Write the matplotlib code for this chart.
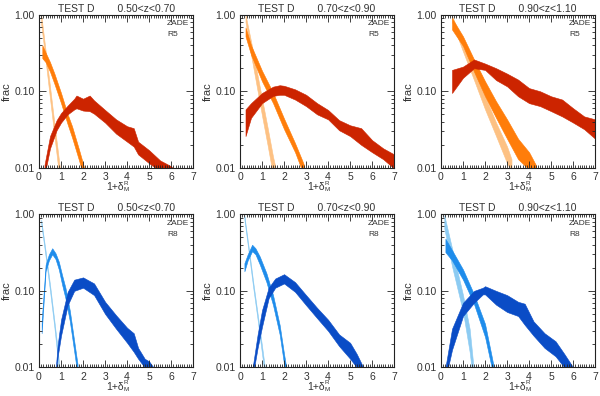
import matplotlib
matplotlib.use('Agg')
import matplotlib.pyplot as plt
from matplotlib.ticker import FixedLocator, MultipleLocator, NullFormatter

plt.rcParams['font.family'] = ['Liberation Sans', 'DejaVu Sans']

# --- data: bands (x, lower, upper) per panel ---
# top row, R5
x_l1 = [0.1, 0.3, 0.5, 0.7, 0.9, 1.0]
hi_l1 = [1.0, 0.34, 0.115, 0.038, 0.013, 0.0075]
lo_l1 = [0.75, 0.25, 0.08, 0.026, 0.0085, 0.005]
x_m1 = [0.15, 0.3, 0.5, 0.7, 1.0, 1.3, 1.5, 1.8, 2.1]
hi_m1 = [0.40, 0.32, 0.24, 0.17, 0.095, 0.05, 0.035, 0.018, 0.009]
lo_m1 = [0.27, 0.24, 0.18, 0.125, 0.07, 0.037, 0.025, 0.013, 0.0065]
x_d1 = [0.25, 0.5, 0.8, 1.0, 1.3, 1.6, 1.7, 2.0, 2.3, 2.5, 3.0, 3.5, 4.0, 4.3, 4.5, 5.0, 5.5, 6.0, 6.2]
hi_d1 = [0.011, 0.026, 0.042, 0.052, 0.065, 0.08, 0.088, 0.08, 0.088, 0.076, 0.057, 0.043, 0.035, 0.033,
         0.022, 0.017, 0.0125, 0.0105, 0.009]
lo_d1 = [0.008, 0.018, 0.031, 0.039, 0.05, 0.058, 0.06, 0.056, 0.055, 0.051, 0.039, 0.028, 0.022, 0.019,
         0.015, 0.0115, 0.009, 0.008, 0.007]

x_l2 = [0.25, 0.5, 0.75, 1.0, 1.25, 1.5, 1.6]
hi_l2 = [1.0, 0.45, 0.19, 0.08, 0.034, 0.014, 0.0105]
lo_l2 = [0.8, 0.3, 0.12, 0.048, 0.02, 0.008, 0.006]
x_m2 = [0.25, 0.5, 1.0, 1.5, 2.0, 2.5, 2.8, 2.9]
hi_m2 = [0.68, 0.4, 0.185, 0.096, 0.044, 0.021, 0.013, 0.011]
lo_m2 = [0.52, 0.3, 0.135, 0.07, 0.032, 0.016, 0.0095, 0.008]
x_d2 = [0.25, 0.5, 1.0, 1.5, 1.8, 2.0, 2.5, 3.0, 3.5, 4.0, 4.5, 5.0, 5.5, 6.0, 6.5, 7.0]
hi_d2 = [0.058, 0.07, 0.095, 0.115, 0.12, 0.118, 0.106, 0.09, 0.07, 0.057, 0.042, 0.036, 0.033, 0.023, 0.018, 0.015]
lo_d2 = [0.026, 0.045, 0.07, 0.087, 0.09, 0.09, 0.078, 0.064, 0.05, 0.043, 0.031, 0.026, 0.02, 0.016, 0.013, 0.0098]

x_l3 = [0.5, 1.0, 1.5, 2.0, 2.5, 3.0, 3.2]
hi_l3 = [0.97, 0.43, 0.19, 0.086, 0.039, 0.019, 0.013]
lo_l3 = [0.8, 0.33, 0.14, 0.058, 0.026, 0.0115, 0.009]
x_m3 = [0.5, 1.0, 1.5, 2.0, 2.5, 3.0, 3.5, 4.0, 4.3]
hi_m3 = [0.9, 0.52, 0.26, 0.135, 0.074, 0.043, 0.024, 0.016, 0.011]
lo_m3 = [0.64, 0.39, 0.18, 0.086, 0.045, 0.024, 0.013, 0.0095, 0.007]
x_d3 = [0.5, 1.0, 1.5, 2.0, 2.5, 3.0, 3.5, 4.0, 4.5, 5.0, 5.5, 6.0, 6.5, 7.0]
hi_d3 = [0.19, 0.21, 0.26, 0.23, 0.2, 0.17, 0.142, 0.11, 0.1, 0.086, 0.078, 0.06, 0.047, 0.043]
lo_d3 = [0.095, 0.15, 0.2, 0.19, 0.14, 0.116, 0.086, 0.07, 0.064, 0.055, 0.047, 0.039, 0.032, 0.024]

# bottom row, R8
x_l4 = [0.1, 0.3, 0.5, 0.7, 0.85, 0.9]
hi_l4 = [0.85, 0.33, 0.12, 0.04, 0.017, 0.012]
lo_l4 = [0.75, 0.28, 0.1, 0.033, 0.013, 0.009]
x_m4 = [0.12, 0.3, 0.45, 0.6, 0.75, 0.9, 1.05, 1.2, 1.4, 1.6, 1.75]
hi_m4 = [0.04, 0.22, 0.3, 0.36, 0.31, 0.24, 0.16, 0.11, 0.055, 0.022, 0.011]
lo_m4 = [0.028, 0.18, 0.25, 0.3, 0.26, 0.19, 0.12, 0.08, 0.04, 0.016, 0.008]
x_d4 = [0.75, 0.85, 1.0, 1.3, 1.6, 2.0, 2.5, 3.0, 3.5, 4.0, 4.3, 4.5, 4.8, 5.0, 5.2]
hi_d4 = [0.009, 0.02, 0.042, 0.097, 0.14, 0.15, 0.125, 0.072, 0.048, 0.033, 0.028, 0.018, 0.013, 0.012, 0.01]
lo_d4 = [0.007, 0.014, 0.026, 0.065, 0.1, 0.11, 0.088, 0.05, 0.032, 0.021, 0.016, 0.013, 0.01, 0.009, 0.0075]

x_l5 = [0.2, 0.4, 0.6, 0.8, 1.0, 1.15]
hi_l5 = [0.95, 0.36, 0.13, 0.05, 0.019, 0.009]
lo_l5 = [0.85, 0.31, 0.11, 0.042, 0.015, 0.007]
x_m5 = [0.2, 0.35, 0.55, 0.7, 0.9, 1.2, 1.5, 1.8, 2.0, 2.1]
hi_m5 = [0.23, 0.3, 0.4, 0.36, 0.28, 0.17, 0.088, 0.036, 0.015, 0.01]
lo_m5 = [0.18, 0.25, 0.33, 0.3, 0.22, 0.13, 0.065, 0.027, 0.011, 0.0075]
x_d5 = [0.55, 0.8, 1.0, 1.3, 1.6, 2.0, 2.5, 3.0, 3.5, 4.0, 4.5, 5.0, 5.3, 5.6]
hi_d5 = [0.009, 0.027, 0.056, 0.11, 0.145, 0.165, 0.13, 0.088, 0.06, 0.042, 0.027, 0.021, 0.015, 0.01]
lo_d5 = [0.007, 0.018, 0.034, 0.08, 0.11, 0.125, 0.097, 0.065, 0.044, 0.03, 0.019, 0.013, 0.01, 0.0075]

x_l6 = [0.15, 0.5, 1.0, 1.3, 1.45]
hi_l6 = [0.97, 0.36, 0.088, 0.032, 0.012]
lo_l6 = [0.65, 0.21, 0.053, 0.016, 0.007]
x_m6 = [0.2, 0.5, 1.0, 1.5, 2.0, 2.3, 2.4]
hi_m6 = [0.48, 0.34, 0.19, 0.09, 0.037, 0.014, 0.01]
lo_m6 = [0.32, 0.25, 0.14, 0.067, 0.025, 0.01, 0.007]
x_d6 = [0.2, 0.5, 1.0, 1.5, 1.9, 2.0, 2.5, 3.0, 3.5, 3.8, 4.2, 4.7, 5.2, 5.6, 6.0]
hi_d6 = [0.01, 0.032, 0.07, 0.1, 0.11, 0.115, 0.1, 0.088, 0.072, 0.068, 0.04, 0.028, 0.022, 0.015, 0.01]
lo_d6 = [0.007, 0.017, 0.047, 0.07, 0.09, 0.09, 0.066, 0.053, 0.047, 0.036, 0.026, 0.018, 0.014, 0.01, 0.007]

z_labels = ['0.50<z<0.70', '0.70<z<0.90', '0.90<z<1.10']
r_labels = ['R5', 'R8']
orange_cols = ['#fdc183', '#ff7d0a', '#cc2400']
blue_cols = ['#8ccbf2', '#1e8ceb', '#0a4cc6']

panels = [
    [(x_l1, lo_l1, hi_l1), (x_m1, lo_m1, hi_m1), (x_d1, lo_d1, hi_d1)],
    [(x_l2, lo_l2, hi_l2), (x_m2, lo_m2, hi_m2), (x_d2, lo_d2, hi_d2)],
    [(x_l3, lo_l3, hi_l3), (x_m3, lo_m3, hi_m3), (x_d3, lo_d3, hi_d3)],
    [(x_l4, lo_l4, hi_l4), (x_m4, lo_m4, hi_m4), (x_d4, lo_d4, hi_d4)],
    [(x_l5, lo_l5, hi_l5), (x_m5, lo_m5, hi_m5), (x_d5, lo_d5, hi_d5)],
    [(x_l6, lo_l6, hi_l6), (x_m6, lo_m6, hi_m6), (x_d6, lo_d6, hi_d6)],
]

fig = plt.figure(figsize=(6, 3.96), dpi=100)
lefts = [0.065, 0.4, 0.735]
bottoms = [0.576, 0.072]
w, h = 0.257, 0.387
txt = '#333333'

for i, bands in enumerate(panels):
    row, col = divmod(i, 3)
    ax = fig.add_axes([lefts[col], bottoms[row], w, h])
    cols = orange_cols if row == 0 else blue_cols
    for (x, lo, hi), c in zip(bands, cols):
        ax.fill_between(x, lo, hi, color=c, lw=0.4, ec=c)
    ax.set_yscale('log')
    ax.set_xlim(0, 7)
    ax.set_ylim(0.01, 1.0)
    ax.yaxis.set_major_locator(FixedLocator([0.01, 0.1, 1.0]))
    ax.set_yticklabels(['0.01', '0.10', '1.00'])
    ax.yaxis.set_minor_formatter(NullFormatter())
    ax.xaxis.set_major_locator(MultipleLocator(1))
    ax.xaxis.set_minor_locator(MultipleLocator(0.1))
    ax.tick_params(which='both', direction='in', top=True, right=True,
                   labelsize=7.5, colors='#222222', labelcolor=txt, width=0.6)
    ax.tick_params(which='major', length=5, pad=3)
    ax.tick_params(which='minor', length=2)
    for s in ax.spines.values():
        s.set_linewidth(0.8)
        s.set_color('#222222')
    ax.set_ylabel('frac', fontsize=8, color=txt, labelpad=2)

    # x label: 1+delta with small R superscript and M subscript
    xl = ax.text(0.49, -0.092, '1+δ', transform=ax.transAxes, fontsize=7.5,
                 color=txt, ha='center', va='top')
    ax.annotate('R', xy=(1, 0.62), xycoords=xl, fontsize=4.5, color=txt,
                ha='left', va='bottom', xytext=(0.3, 0), textcoords='offset points')
    ax.annotate('M', xy=(1, 0.0), xycoords=xl, fontsize=4.5, color=txt,
                ha='left', va='bottom', xytext=(0.3, 0), textcoords='offset points')

    ax.set_title('TEST D        ' + z_labels[col], fontsize=7.5, color=txt, pad=2)
    ax.text(0.83, 0.94, 'ZADE', transform=ax.transAxes, fontsize=6, color=txt, va='center')
    ax.text(0.83, 0.87, r_labels[row], transform=ax.transAxes, fontsize=6, color=txt, va='center')

fig.savefig('out.png', dpi=100)
